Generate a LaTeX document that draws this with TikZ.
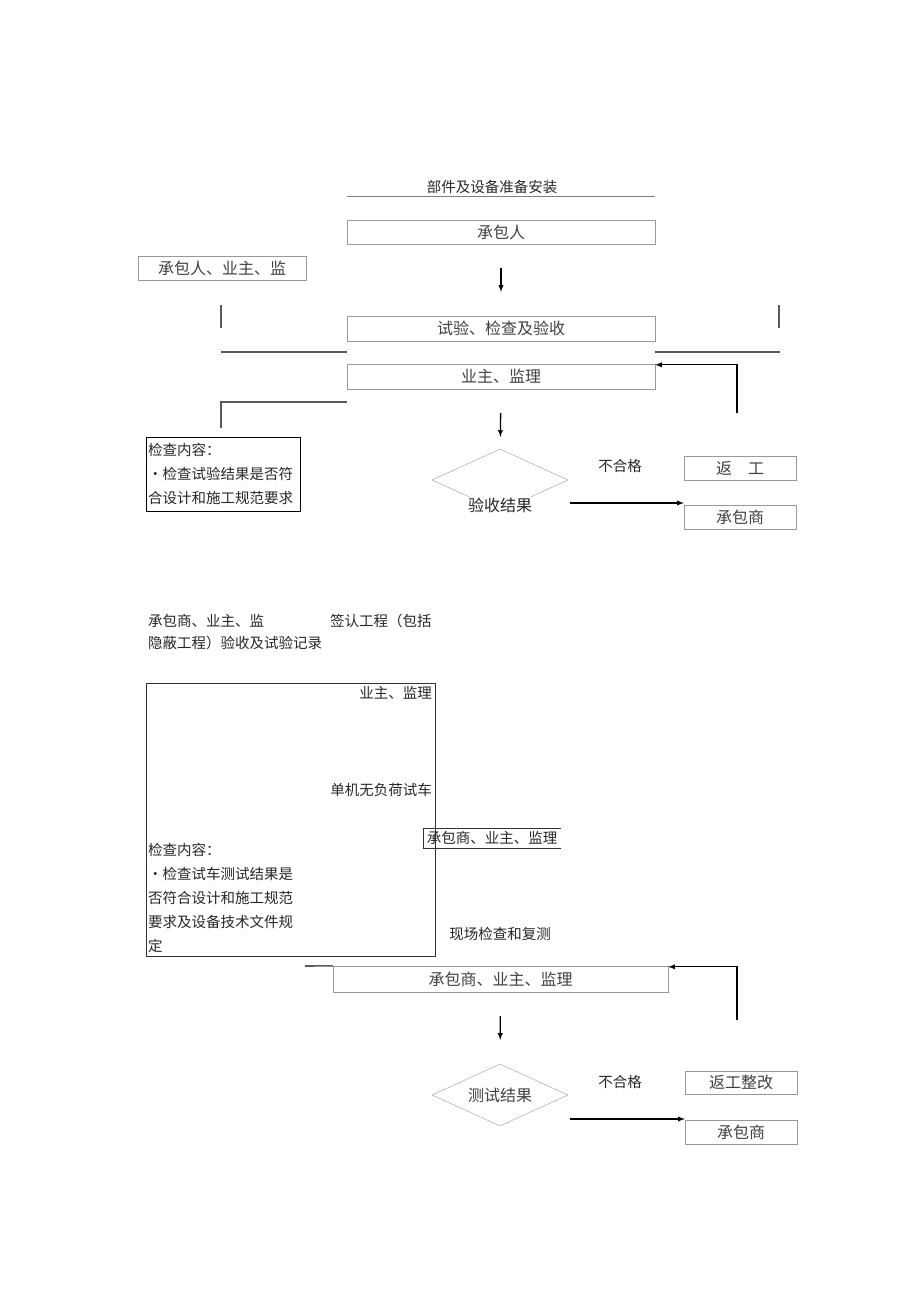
\documentclass[tikz,border=0pt]{standalone}
\usepackage{fontspec}
\newfontfamily\cjk{Noto Sans CJK SC}
\usetikzlibrary{shapes.geometric}

\begin{document}
\begin{tikzpicture}[x=1pt,y=-1pt,>=latex,
  every node/.style={font=\cjk\fontsize{14.5}{24}\selectfont,inner sep=0pt},
  box/.style={draw=gray!80,text=black!75,minimum height=24pt,font=\cjk\fontsize{16}{18}\selectfont},
  txt/.style={text=black!85},
  memo/.style={draw=black,align=left,inner xsep=2pt,inner ysep=5pt,text width=150pt,text=black!85},
  result/.style={draw=gray!80,shape=diamond,aspect=2.5,minimum width=136pt,minimum height=62pt,text=black!75,font=\cjk\fontsize{16}{18}\selectfont},
  flow/.style={->,line width=1.3pt},
  bar/.style={line width=1.6pt,black!65}]
  \useasboundingbox (0,0) rectangle (920,1301);

  % first stage
  \node[txt] (title) at (492,187) {部件及设备准备安装};
  \coordinate (tl) at (347,196);
  \coordinate (tr) at (655,196);
  \draw[gray] (tl) -- (tr);
  \node[box,minimum width=308pt] (cbr) at (501,232) {承包人};
  \node[box,minimum width=168pt] (jl1) at (222,268) {承包人、业主、监};
  \node[box,minimum width=308pt,minimum height=25pt] (syj) at (501,328.5) {试验、检查及验收};
  \node[box,minimum width=308pt,minimum height=25pt] (yz) at (501,376.5) {业主、监理};
  \draw[flow,shorten <=24pt,shorten >=24pt] (cbr) -- (syj);

  \coordinate (s1) at (221,305);
  \coordinate (s2) at (779,305);
  \draw[bar] (s1) -- ++(0,23);
  \draw[bar] (s2) -- ++(0,23);
  \draw[bar] (221,352) -- (syj.west |- 0,352);
  \draw[bar] (syj.east |- 0,352) -- (780,352);
  \coordinate (c1) at (221,428);
  \draw[bar] (yz.west |- 0,402) -| (c1);

  \node[memo,anchor=north west,minimum height=74pt] (chk1) at (146,437)
    {检查内容：\\•检查试验结果是否符\\合设计和施工规范要求};

  \node[result] (ysjg) at (500,480) {};
  \node[txt,fill=white,inner sep=1pt,font=\cjk\fontsize{16}{18}\selectfont] (ysl) at (500,505) {验收结果};
  \draw[flow,shorten <=24pt,shorten >=12pt] (yz) -- (ysjg);

  \node[txt] (bhg1) at (620,466) {不合格};
  \node[box,minimum width=112pt] (fg1) at (740,468) {返\quad 工};
  \node[box,minimum width=112pt] (cbs1) at (740,517) {承包商};
  \coordinate (a3) at (570,503);
  \draw[flow] (a3) -- (a3 -| cbs1.west);
  \coordinate (fb1) at (737,413);
  \draw[flow] (fb1) |- ([yshift=-1pt]yz.north east);

  % second stage
  \node[txt,anchor=west] (qr1) at (148,621) {承包商、业主、监};
  \node[txt,anchor=west] (qr2) at (330,621) {签认工程（包括};
  \node[txt,anchor=west] (qr3) at (148,643) {隐蔽工程）验收及试验记录};

  \node[draw=black!80,anchor=north west,minimum width=289pt,minimum height=273pt] (sc) at (146,683) {};
  \node[txt,anchor=east] (yz2) at (432,693) {业主、监理};
  \node[txt,anchor=east] (sj) at (432,790) {单机无负荷试车};
  \node[txt,anchor=north west,align=left] (chk2) at (148,843)
    {检查内容：\\・检查试车测试结果是\\否符合设计和施工规范\\要求及设备技术文件规\\定};

  \node[txt,minimum width=138pt,minimum height=20pt] (cby3) at (492,838) {承包商、业主、监理};
  \draw[black!80] (cby3.north east) -- (cby3.north west) -- (cby3.south west) -- (cby3.south east);
  \node[txt] (xc) at (500,934) {现场检查和复测};

  \node[box,minimum width=335pt,minimum height=26pt] (cby4) at (500.5,979) {承包商、业主、监理};
  \coordinate (l4) at (305,966);
  \draw[bar] (l4) -- (cby4.north west);
  \coordinate (fb2) at (737,1020);
  \draw[flow] (fb2) |- ([yshift=-1pt]cby4.north east);

  \node[result] (csjg) at (500,1095) {测试结果};
  \draw[flow,shorten <=24pt,shorten >=24pt] (cby4) -- (csjg);
  \node[txt] (bhg2) at (620,1082) {不合格};
  \node[box,minimum width=112pt,minimum height=23pt] (fg2) at (741,1082.5) {返工整改};
  \node[box,minimum width=112pt] (cbs2) at (741,1132) {承包商};
  \coordinate (a4) at (570,1119);
  \draw[flow] (a4) -- (a4 -| cbs2.west);
\end{tikzpicture}
\end{document}
